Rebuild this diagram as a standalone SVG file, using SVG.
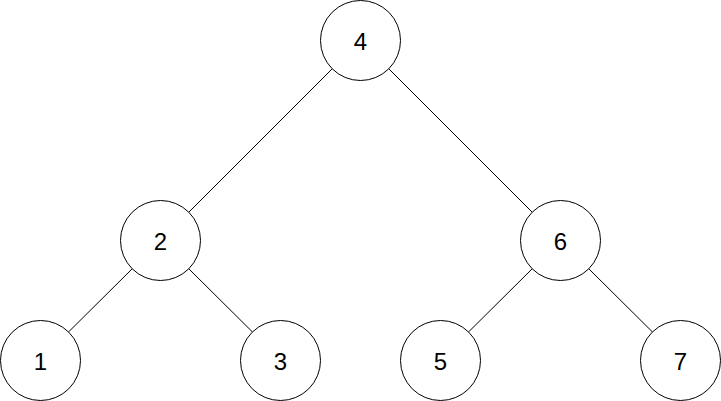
<svg xmlns="http://www.w3.org/2000/svg" width="721" height="401" viewBox="0 0 721 401">
<style>
.n{fill:#fff;stroke:#000;stroke-width:1}
.t{font-family:"Liberation Sans",Arial,sans-serif;font-size:24px;fill:#000;text-anchor:middle;dominant-baseline:central}
.e{stroke:#000;stroke-width:1;fill:none}
</style>
<rect width="721" height="401" fill="#fff"/>
<g id="edges">
<line class="e" x1="332.2" y1="68.8" x2="188.8" y2="212.2"/>
<line class="e" x1="388.8" y1="68.8" x2="532.2" y2="212.2"/>
<line class="e" x1="132.2" y1="268.8" x2="68.3" y2="332.2"/>
<line class="e" x1="188.8" y1="268.8" x2="252.7" y2="332.2"/>
<line class="e" x1="532.2" y1="268.8" x2="468.3" y2="332.2"/>
<line class="e" x1="588.8" y1="268.8" x2="652.7" y2="332.2"/>
</g>
<g id="n4"><circle class="n" cx="360.5" cy="40.5" r="40"/><text class="t" x="360.5" y="41">4</text></g>
<g id="n2"><circle class="n" cx="160.5" cy="240.5" r="40"/><text class="t" x="160.5" y="241">2</text></g>
<g id="n6"><circle class="n" cx="560.5" cy="240.5" r="40"/><text class="t" x="560.5" y="241">6</text></g>
<g id="n1"><circle class="n" cx="40.5" cy="360.5" r="40"/><text class="t" x="40.5" y="361">1</text></g>
<g id="n3"><circle class="n" cx="280.5" cy="360.5" r="40"/><text class="t" x="280.5" y="361">3</text></g>
<g id="n5"><circle class="n" cx="440.5" cy="360.5" r="40"/><text class="t" x="440.5" y="361">5</text></g>
<g id="n7"><circle class="n" cx="680.5" cy="360.5" r="40"/><text class="t" x="680.5" y="361">7</text></g>
</svg>
